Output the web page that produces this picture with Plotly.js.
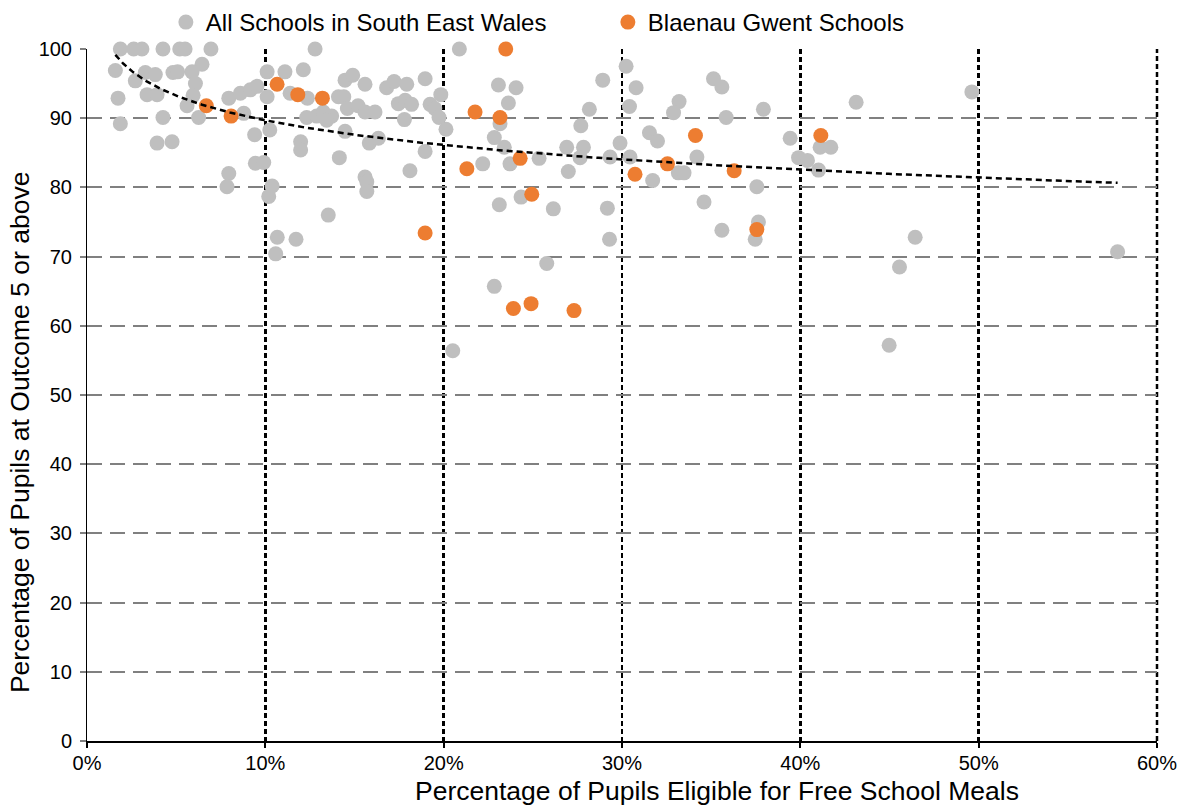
<!DOCTYPE html>
<html>
<head>
<meta charset="utf-8">
<script src="https://cdn.plot.ly/plotly-3.0.1.min.js"></script>
<style>html,body{margin:0;padding:0;background:#fff;}#chart{width:1189px;height:807px;}</style>
</head>
<body>
<div id="chart"></div>
<script>
// All schools in South East Wales: % FSM (x) and % at Outcome 5+ (y)
const allFsm = [
  1.87, 2.62, 3.08, 4.26, 5.2, 5.5, 6.95, 12.79, 20.88,
  1.59, 2.71, 3.27, 3.83, 4.82, 5.08, 6.45, 5.89, 6.08, 1.74, 3.37, 3.93, 5.61, 5.95, 6.26, 1.87, 4.26,
  7.95, 8.6, 8.79, 9.16, 9.53, 10.1, 10.1, 10.25, 9.4, 3.93, 4.77, 9.44, 9.91, 7.95, 7.85, 10.38, 10.19,
  11.1, 12.13, 11.39, 12.36, 14.1, 14.4, 14.47, 14.9, 15.59, 16.8, 17.22, 17.93, 18.96, 19.84, 17.46, 17.84,
  18.2, 19.24, 19.5, 19.74, 20.13, 14.6, 15.2, 15.59, 16.15, 12.32, 12.88, 13.25, 13.72, 13.44, 17.8, 14.47,
  11.98, 11.98, 15.83, 16.34, 18.96, 14.15, 18.11, 15.59, 15.69, 15.69, 13.53, 10.67, 11.72, 10.58,
  23.07, 24.06, 23.63, 23.16, 28.17, 28.92, 30.23, 30.42, 30.79, 27.69, 22.84, 23.4, 25.35, 22.19, 23.72,
  26.9, 27.84, 27.65, 26.99, 29.33, 29.89, 30.45, 24.34, 23.12, 26.15, 29.18,
  35.13, 35.6, 33.2, 32.89, 35.84, 37.93, 31.54, 31.99, 34.2, 33.16, 33.48, 31.72, 37.56, 39.43, 41.11,
  41.71, 39.9, 40.4, 41.02, 34.6, 35.6, 37.65, 37.47, 29.3,
  49.62, 43.13, 46.44, 45.56, 57.79, 44.98, 25.78, 22.84, 20.51
];
const allOutcome = [
  100, 100, 100, 100, 100, 100, 100, 100, 100,
  96.9, 95.4, 96.6, 96.3, 96.6, 96.7, 97.8, 96.7, 95.0, 92.9, 93.4, 93.4, 91.8, 93.3, 90.1, 89.2, 90.1,
  92.9, 93.6, 90.7, 94.1, 94.6, 93.1, 96.7, 88.3, 87.6, 86.4, 86.6, 83.5, 83.6, 82.0, 80.1, 80.2, 78.7,
  96.7, 97.0, 93.6, 92.9, 93.1, 93.1, 95.5, 96.2, 94.9, 94.4, 95.3, 94.9, 95.7, 93.4, 92.1, 92.6,
  92.0, 92.0, 91.4, 90.1, 88.4, 91.4, 91.8, 90.9, 90.9, 90.1, 90.3, 90.9, 90.3, 89.7, 89.8, 88.1,
  86.6, 85.4, 86.4, 87.1, 85.2, 84.3, 82.4, 81.5, 80.8, 79.4, 76.0, 72.8, 72.5, 70.4,
  94.8, 94.4, 92.2, 89.2, 91.3, 95.5, 97.5, 91.7, 94.4, 88.9, 87.2, 85.8, 84.2, 83.4, 83.4,
  85.8, 85.8, 84.3, 82.3, 84.4, 86.4, 84.4, 78.6, 77.5, 76.9, 77.0,
  95.7, 94.5, 92.4, 90.8, 90.1, 91.3, 87.9, 86.7, 84.4, 82.1, 82.1, 81.0, 80.1, 87.1, 85.8,
  85.8, 84.3, 83.9, 82.5, 77.9, 73.8, 75.0, 72.5, 72.5,
  93.8, 92.3, 72.8, 68.5, 70.7, 57.2, 69.0, 65.7, 56.4
];
// Blaenau Gwent schools
const bgFsm = [6.69, 8.08, 10.66, 11.82, 13.2, 18.96, 21.3, 21.76, 23.16, 23.48, 24.29,
  24.94, 23.91, 24.9, 27.31, 30.73, 32.55, 34.12, 36.29, 37.56, 41.15];
const bgOutcome = [91.8, 90.3, 94.9, 93.4, 92.9, 73.4, 82.7, 90.9, 90.1, 100, 84.2,
  79.0, 62.5, 63.2, 62.2, 81.9, 83.4, 87.5, 82.4, 73.9, 87.5];

const seriesNames = ['All Schools in South East Wales', 'Blaenau Gwent Schools'];
const xTickVals = [0, 10, 20, 30, 40, 50, 60];
const xTickText = ['0%', '10%', '20%', '30%', '40%', '50%', '60%'];
const yTickVals = [0, 10, 20, 30, 40, 50, 60, 70, 80, 90, 100];
const xTitle = 'Percentage of Pupils Eligible for Free School Meals';
const yTitle = 'Percentage of Pupils at Outcome 5 or above';

// Logarithmic trendline fitted to all points: y = a + b ln(x)
const fitX = allFsm.concat(bgFsm), fitY = allOutcome.concat(bgOutcome);
let n = fitX.length, sL = 0, sY = 0, sLL = 0, sLY = 0;
for (let i = 0; i < n; i++) { const l = Math.log(fitX[i]); sL += l; sY += fitY[i]; sLL += l * l; sLY += l * fitY[i]; }
const b = (n * sLY - sL * sY) / (n * sLL - sL * sL);
const a = (sY - b * sL) / n;
const xMin = Math.min(...fitX), xMax = Math.max(...fitX);
const trendX = [], trendY = [];
for (let k = 0; k <= 200; k++) { const x = xMin * Math.pow(xMax / xMin, k / 200); trendX.push(x); trendY.push(a + b * Math.log(x)); }

const font = 'Liberation Sans, Arial, sans-serif';
const traces = [
  { type: 'scatter', mode: 'markers', name: seriesNames[0], x: allFsm, y: allOutcome, cliponaxis: false,
    marker: { color: '#BFBFBF', size: 15 }, hoverinfo: 'x+y' },
  { type: 'scatter', mode: 'markers', name: seriesNames[1], x: bgFsm, y: bgOutcome, cliponaxis: false,
    marker: { color: '#ED7D31', size: 15 }, hoverinfo: 'x+y' },
  { type: 'scatter', mode: 'lines', x: trendX, y: trendY, showlegend: false,
    line: { color: '#000000', width: 2.5, dash: '6px,4px' }, hoverinfo: 'skip' }
];
const layout = {
  width: 1189, height: 807,
  margin: { l: 87, r: 32, t: 49, b: 66, autoexpand: false },
  paper_bgcolor: '#ffffff', plot_bgcolor: '#ffffff',
  font: { family: font, color: '#000000', size: 20 },
  showlegend: true,
  legend: { orientation: 'h', x: 0.0737, xanchor: 'left', y: 1, yref: 'container', yanchor: 'top',
    font: { size: 24, family: font, color: '#000' }, itemsizing: 'trace', entrywidth: 397, bgcolor: 'rgba(0,0,0,0)' },
  xaxis: {
    range: [0, 60], tickmode: 'array', tickvals: xTickVals, ticktext: xTickText,
    showline: true, linecolor: '#000', linewidth: 2,
    ticks: 'outside', ticklen: 5, tickwidth: 2, tickcolor: '#000', ticklabelstandoff: -2,
    showgrid: true, gridcolor: '#000', gridwidth: 2.5, griddash: '5px,3px',
    zeroline: false, tickfont: { size: 20, family: font, color: '#000' }
  },
  yaxis: {
    range: [0, 100], tickmode: 'array', tickvals: yTickVals,
    showline: true, linecolor: '#000', linewidth: 1,
    ticks: 'outside', ticklen: 6, tickwidth: 2, tickcolor: '#808080', ticklabelstandoff: 4,
    showgrid: true, gridcolor: '#808080', gridwidth: 2, griddash: '15px,8px',
    zeroline: false, tickfont: { size: 20, family: font, color: '#000' }
  },
  annotations: [
    { text: xTitle, xref: 'paper', yref: 'paper', x: 0.5888, y: -0.0954, xanchor: 'center', yanchor: 'bottom',
      borderpad: 0, showarrow: false, font: { size: 26.5, family: font, color: '#000' } },
    { text: yTitle, xref: 'paper', yref: 'paper', x: -0.0626, y: 0.445, xanchor: 'center', yanchor: 'middle',
      textangle: -90, showarrow: false, font: { size: 26.5, family: font, color: '#000' } }
  ],
  shapes: [
    { type: 'line', xref: 'paper', yref: 'y', x0: 1, x1: 1, y0: 0, y1: 100, layer: 'below',
      line: { color: '#000', width: 2.5, dash: '5px,3px' } }
  ]
};
Plotly.newPlot('chart', traces, layout, { displayModeBar: false, staticPlot: true });
</script>
</body>
</html>
